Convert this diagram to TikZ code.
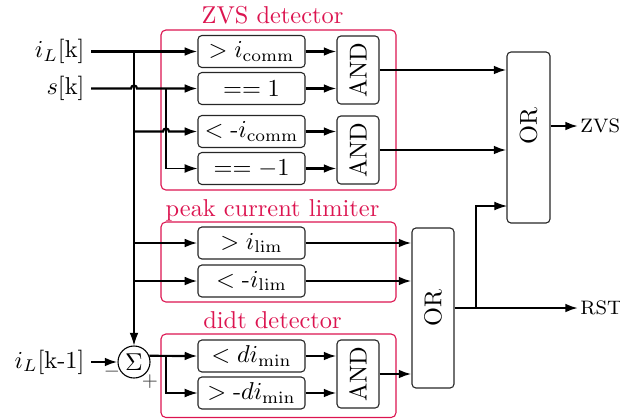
\documentclass[tikz,border=0pt]{standalone}
\usepackage{amsmath}
\usepackage{graphicx}
\usetikzlibrary{arrows.meta,calc}
\definecolor{frm}{RGB}{220,20,80}
\begin{document}
\begin{tikzpicture}[x=0.41pt,y=-0.41pt,
  tip/.style={-{Latex[length=5.2pt,width=3.6pt]}},
  thk/.style={line width=0.9pt},
  thn/.style={line width=0.45pt},
  cmp/.style={draw=black!85,line width=0.45pt,rounded corners=1.6pt,fill=white,minimum width=43.9pt,minimum height=13.1pt,inner sep=0pt},
  andg/.style={draw=black!85,line width=0.45pt,rounded corners=1.6pt,fill=white,minimum width=17.2pt,minimum height=27.9pt,inner sep=0pt},
  frame/.style={draw=frm,line width=0.45pt,rounded corners=2pt},
  ttl/.style={text=frm,anchor=base,inner sep=0pt},
  lab/.style={anchor=east,inner sep=2.5pt},
  outl/.style={anchor=west,inner sep=0.8pt,font=\footnotesize}]
\useasboundingbox (0,0) rectangle (620,419);

% frames
\draw[frame] (161,30) rectangle (396,190);
\draw[frame] (161,222) rectangle (396,302);
\draw[frame] (161,334) rectangle (396,417.5);
\node[ttl] (tz) at (272.5,24) {ZVS detector};
\node[ttl] (tp) at (272.5,216) {peak current limiter};
\node[ttl] (td) at (272.5,328) {didt detector};

% inputs
\node[lab] (iLk) at (91,51.5) {$i_L$[k]};
\node[lab] (sk) at (91,88.5) {$s$[k]};
\node[lab] (iLk1) at (91,362) {$i_L$[k-1]};

% comparators
\node[cmp] (c1) at (251.5,51.5) {$> i_{\mathrm{comm}}$};
\node[cmp] (c2) at (251.5,88.5) {$==1$};
\node[cmp] (c3) at (251.5,131.5) {$<\text{-}i_{\mathrm{comm}}$};
\node[cmp] (c4) at (251.5,168.5) {$==-1$};
\node[cmp] (p1) at (251.5,243) {$> i_{\mathrm{lim}}$};
\node[cmp] (p2) at (251.5,281) {$<\text{-}i_{\mathrm{lim}}$};
\node[cmp] (d1) at (251.5,356) {$< di_{\mathrm{min}}$};
\node[cmp] (d2) at (251.5,393) {$>\text{-}di_{\mathrm{min}}$};

% AND gates
\node[andg] (a1) at (358,70) {\rotatebox{90}{AND}};
\node[andg] (a2) at (358,150) {\rotatebox{90}{AND}};
\node[andg] (a3) at (358,374) {\rotatebox{90}{AND}};

% OR gates
\node[draw=black!85,line width=0.45pt,rounded corners=1.6pt,minimum width=17.6pt,minimum height=70.1pt,inner sep=0pt] (o1) at (528.5,137.5) {};
\node[inner sep=0pt] (o1t) at (528.5,126) {\rotatebox{90}{OR}};
\node[draw=black!85,line width=0.45pt,rounded corners=1.6pt,minimum width=17.2pt,minimum height=65.6pt,inner sep=0pt] (o2) at (433,308) {\rotatebox{90}{OR}};

% sum
\node[draw,thn,circle,minimum size=13.12pt,inner sep=0pt,fill=white] (sig) at (134,362) {$\Sigma$};
\node[font=\footnotesize,text=black!75,inner sep=0pt] (mi) at (112,372) {$-$};
\node[font=\footnotesize,text=black!75,inner sep=0pt] (pl) at (150,382) {$+$};

% outputs
\node[outl] (zvs) at (578,126) {ZVS};
\node[outl] (rst) at (578,308) {RST};

% junctions
\coordinate (j1) at (134,51.5);
\coordinate (j2) at (166,88.5);
\coordinate (j3) at (166,356);
\coordinate (j4) at (476,308);
\coordinate (o1c) at (507,206);

% wiring
\draw[thn,tip] (j1) -- (sig.north);
\draw[thn,tip] (j2) |- (c4.west);
\draw[thn,tip] (j3) |- (d2.west);
\draw[thk,tip] (iLk.east) -- (c1.west);
\draw[thk,tip] (sk.east) -- (131,88.5) arc[start angle=180,end angle=360,radius=3] -- (c2.west);
\draw[thk,tip] (j1 |- c3.west) -- (163,131.5) arc[start angle=180,end angle=360,radius=3] -- (c3.west);
\draw[thk,tip] (j1 |- p1.west) -- (p1.west);
\draw[thk,tip] (j1 |- p2.west) -- (p2.west);
\draw[thk,tip] (iLk1.east) -- (sig.west);
\draw[thk,tip] (sig.22) -- (d1.west);

\draw[thk,tip] (c1.east) -- (c1.east -| a1.west);
\draw[thk,tip] (c2.east) -- (c2.east -| a1.west);
\draw[thk,tip] (c3.east) -- (c3.east -| a2.west);
\draw[thk,tip] (c4.east) -- (c4.east -| a2.west);
\draw[thk,tip] (d1.east) -- (d1.east -| a3.west);
\draw[thk,tip] (d2.east) -- (d2.east -| a3.west);

\draw[thk,tip] (a1.east) -- (a1.east -| o1.west);
\draw[thk,tip] (a2.east) -- (a2.east -| o1.west);
\draw[thk,tip] (p1.east) -- (p1.east -| o2.west);
\draw[thk,tip] (p2.east) -- (p2.east -| o2.west);
\draw[thk,tip] (a3.east) -- (a3.east -| o2.west);

\draw[thk,tip] (o2.east) -- (rst.west);
\draw[thn,tip] (j4) |- (o1c);
\draw[thk,tip] (o1.east |- o1t) -- (zvs.west);
\end{tikzpicture}
\end{document}
